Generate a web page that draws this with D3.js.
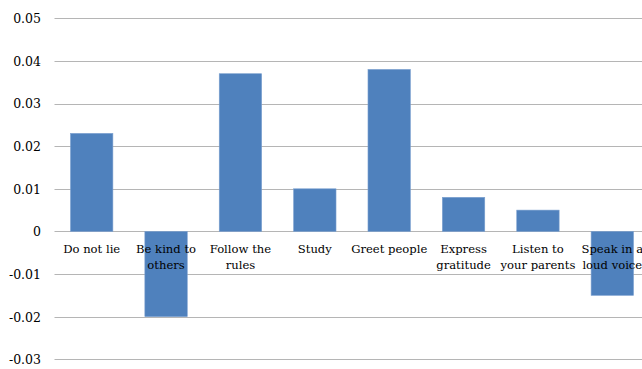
<!DOCTYPE html>
<html>
<head>
<meta charset="utf-8">
<script src="https://cdn.jsdelivr.net/npm/d3@7"></script>
<style>
  html, body { margin: 0; padding: 0; background: #fff; }
  svg { display: block; }
</style>
</head>
<body>
<svg id="chart" width="642" height="369"></svg>
<script>
// Category names (line breaks where the label wraps)
const categories = [
  ["Do not lie"],
  ["Be kind to", "others"],
  ["Follow the", "rules"],
  ["Study"],
  ["Greet people"],
  ["Express", "gratitude"],
  ["Listen to", "your parents"],
  ["Speak in a", "loud voice"]
];
const values = [0.023, -0.02, 0.037, 0.01, 0.038, 0.008, 0.005, -0.015];
const yTicks = [0.05, 0.04, 0.03, 0.02, 0.01, 0, -0.01, -0.02, -0.03];
const yTickLabels = ["0.05", "0.04", "0.03", "0.02", "0.01", "0", "-0.01", "-0.02", "-0.03"];

const FONT = "'DejaVu Serif', serif";
const svg = d3.select("#chart");
const plotLeft = 54.5, plotRight = 649.5, plotTop = 18.3, plotBottom = 359.3;

const x = d3.scaleBand()
  .domain(d3.range(categories.length))
  .range([plotLeft, plotRight])
  .paddingInner(0.43)
  .paddingOuter(0.215);

const y = d3.scaleLinear().domain([-0.03, 0.05]).range([plotBottom, plotTop]);

// Horizontal gridlines
svg.append("g")
  .selectAll("line")
  .data(yTicks)
  .join("line")
  .attr("x1", plotLeft).attr("x2", 642)
  .attr("y1", d => Math.round(y(d)) + 0.5)
  .attr("y2", d => Math.round(y(d)) + 0.5)
  .attr("stroke", "#b5b5b5")
  .attr("stroke-width", 1);

// Y-axis labels
const yAxis = d3.axisLeft(y)
  .tickValues(yTicks)
  .tickFormat((d, i) => yTickLabels[i])
  .tickSize(0)
  .tickPadding(0);
const gy = svg.append("g").attr("transform", "translate(41,0)").call(yAxis);
gy.select(".domain").remove();
gy.attr("font-family", FONT).attr("font-size", 12.5);
gy.selectAll("text")
  .attr("fill", "#000")
  .attr("dy", "0.35em");

// Bars
svg.append("g")
  .selectAll("rect")
  .data(values)
  .join("rect")
  .attr("x", (d, i) => x(i))
  .attr("width", x.bandwidth())
  .attr("y", d => y(Math.max(0, d)))
  .attr("height", d => Math.abs(y(d) - y(0)))
  .attr("fill", "#4f81bd")
  .attr("stroke", "#7ba0cf")
  .attr("stroke-width", 0.6);

// Category labels just below the zero line
const labels = svg.append("g")
  .attr("font-family", FONT)
  .attr("font-size", 11.6)
  .selectAll("text")
  .data(categories)
  .join("text")
  .attr("text-anchor", "middle")
  .attr("fill", "#000")
  .attr("x", (d, i) => x(i) + x.bandwidth() / 2)
  .attr("y", y(0) + 22);
labels.selectAll("tspan")
  .data(d => d)
  .join("tspan")
  .attr("x", function () { return d3.select(this.parentNode).attr("x"); })
  .attr("dy", (d, i) => i === 0 ? 0 : 16)
  .text(d => d);
</script>
</body>
</html>
